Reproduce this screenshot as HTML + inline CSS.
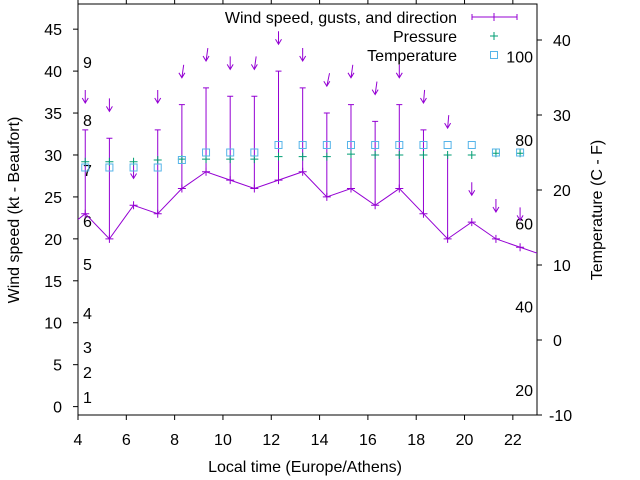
<!DOCTYPE html>
<html><head><meta charset="utf-8"><style>
body{margin:0;background:#fff}
svg{display:block;font-family:"Liberation Sans",sans-serif}
</style></head><body>
<svg id="c" width="640" height="480" viewBox="0 0 640 480">
<g id="g"></g>
</svg>
<script>
const hours=[4.3,5.3,6.3,7.3,8.3,9.3,10.3,11.3,12.3,13.3,14.3,15.3,16.3,17.3,18.3,19.3,20.3,21.3,22.3];
const wind=[23,20,24,23,26,28,27,26,27,28,25,26,24,26,23,20,22,20,19];
const gust=[33,32,null,33,36,38,37,37,40,38,35,36,34,36,33,30,null,null,null];
const dirTilt=[0,0,0,0,8,8,0,8,0,0,12,8,8,0,5,5,0,0,0];
const pressure=[29.2,29.2,29.2,29.4,29.5,29.5,29.5,29.5,29.8,29.8,29.8,30.1,30.0,30.0,30.0,30.0,30.0,30.2,30.2];
const tempC=[23,23,23,23,24,25,25,25,26,26,26,26,26,26,26,26,26,25,25];
const windLineExt=[[3.3,20.7],[23.3,18]];
const xTicks=[4,6,8,10,12,14,16,18,20,22];
const yTicks=[0,5,10,15,20,25,30,35,40,45];
const y2Ticks=[-10,0,10,20,30,40];
const beaufort=[[1,397],[2,372],[3,347],[4,313],[5,264],[6,221],[7,170],[8,120],[9,62]];
const fahr=[20,40,60,80,100];

const L=78,R=537,T=4,B=415;
const X=v=>L+(v-4)/(23-4)*(R-L);
const Y=v=>B-(v+1)/(48+1)*(B-T);
const Y2=v=>B-(v+10)/(44.8+10)*(B-T);
const F2C=f=>(f-32)*5/9;
const g=document.getElementById('g');
const NS='http://www.w3.org/2000/svg';
const FS=16;
function el(t,a,txt){const e=document.createElementNS(NS,t);for(const k in a)e.setAttribute(k,a[k]);if(txt!=null)e.textContent=txt;g.appendChild(e);return e;}
const P='#9400d3',G='#009e73',C='#56b4e9';

const defs=el('defs',{});const cp=document.createElementNS(NS,'clipPath');cp.setAttribute('id','clip');
const cr=document.createElementNS(NS,'rect');cr.setAttribute('x',L);cr.setAttribute('y',T);cr.setAttribute('width',R-L);cr.setAttribute('height',B-T);cp.appendChild(cr);defs.appendChild(cp);

let e=el('rect',{x:L,y:T,width:R-L,height:B-T,fill:'none',stroke:'#000','stroke-width':1});



xTicks.forEach(v=>{
 let t=el('line',{x1:X(v),x2:X(v),y1:B,y2:B+5,stroke:'#000'});
 
 
 el('line',{x1:X(v),x2:X(v),y1:T,y2:T-5,stroke:'#000'});
 let l=el('text',{x:X(v),y:445,'text-anchor':'middle','font-size':FS},v);
 
 
});
yTicks.forEach(v=>{
 el('line',{x1:L-5,x2:L,y1:Y(v),y2:Y(v),stroke:'#000'});
 let l=el('text',{x:62,y:Y(v)+6,'text-anchor':'end','font-size':FS},v);
 
 
});
y2Ticks.forEach(v=>{
 el('line',{x1:R,x2:R+5,y1:Y2(v),y2:Y2(v),stroke:'#000'});
 let l=el('text',{x:v<0?549:553,y:Y2(v)+6,'font-size':FS},v);
 
 
});
beaufort.forEach(([n,y])=>{
 let l=el('text',{x:83,y:y+6,'font-size':FS},n);
 
 
});
fahr.forEach(f=>{
 let l=el('text',{x:533,y:Y2(F2C(f))+6,'text-anchor':'end','font-size':FS},f);
 
 
});

const cg=document.createElementNS(NS,'g');cg.setAttribute('clip-path','url(#clip)');g.appendChild(cg);
function cel(t,a){const x=el(t,a);cg.appendChild(x);return x;}

const pts=[windLineExt[0]].concat(hours.map((h,i)=>[h,wind[i]])).concat([windLineExt[1]]);
e=cel('polyline',{points:pts.map(p=>X(p[0])+','+Y(p[1])).join(' '),fill:'none',stroke:P,'stroke-width':1});


hours.forEach((h,i)=>{
 const x=X(h),y=Y(wind[i]);
 let m=cel('path',{d:`M${x-4},${y}H${x+4}M${x},${y-4}V${y+4}`,stroke:P});
 
 
 if(gust[i]!=null){
  const yg=Y(gust[i]);
  let b=cel('path',{d:`M${x},${y}V${yg}M${x-3},${yg}H${x+3}`,stroke:P});
  
  
 }
 const top=Math.max(wind[i],gust[i]==null?0:gust[i])+3.2;
 const ty=Y(top),dx=Math.sin(dirTilt[i]*Math.PI/180)*13,dy=13;
 let a=cel('path',{d:`M${x+dx},${ty-dy}L${x},${ty}M${x-3},${ty-5}L${x},${ty}L${x+3},${ty-5}`,stroke:P,fill:'none'});
 
 
 const yp=Y(pressure[i]);
 let p=cel('path',{d:`M${x-4},${yp}H${x+4}M${x},${yp-4}V${yp+4}`,stroke:G});
 
 
 const yt=Y2(tempC[i]);
 let s=cel('rect',{x:x-3.5,y:yt-3.5,width:7,height:7,fill:'none',stroke:C});
 
 
});

[['Wind speed, gusts, and direction',17],['Pressure',36],['Temperature',55]].forEach(([t,y],i)=>{
 let l=el('text',{x:457,y:y+6,'text-anchor':'end','font-size':FS},t);
 
 
});
el('path',{d:'M472,17H517M494,13V21M472,14V20M517,14V20',stroke:P});
el('path',{d:'M490,36H498M494,32V40',stroke:G});
el('rect',{x:490.5,y:51.5,width:7,height:7,fill:'none',stroke:C});

e=el('text',{x:0,y:0,'font-size':FS,'text-anchor':'middle',transform:'translate(19,210) rotate(-90)'},'Wind speed (kt - Beaufort)');


e=el('text',{x:0,y:0,'font-size':FS,'text-anchor':'middle',transform:'translate(602,210) rotate(-90)'},'Temperature (C - F)');


e=el('text',{x:305,y:472,'font-size':FS,'text-anchor':'middle'},'Local time (Europe/Athens)');


</script>
</body></html>
